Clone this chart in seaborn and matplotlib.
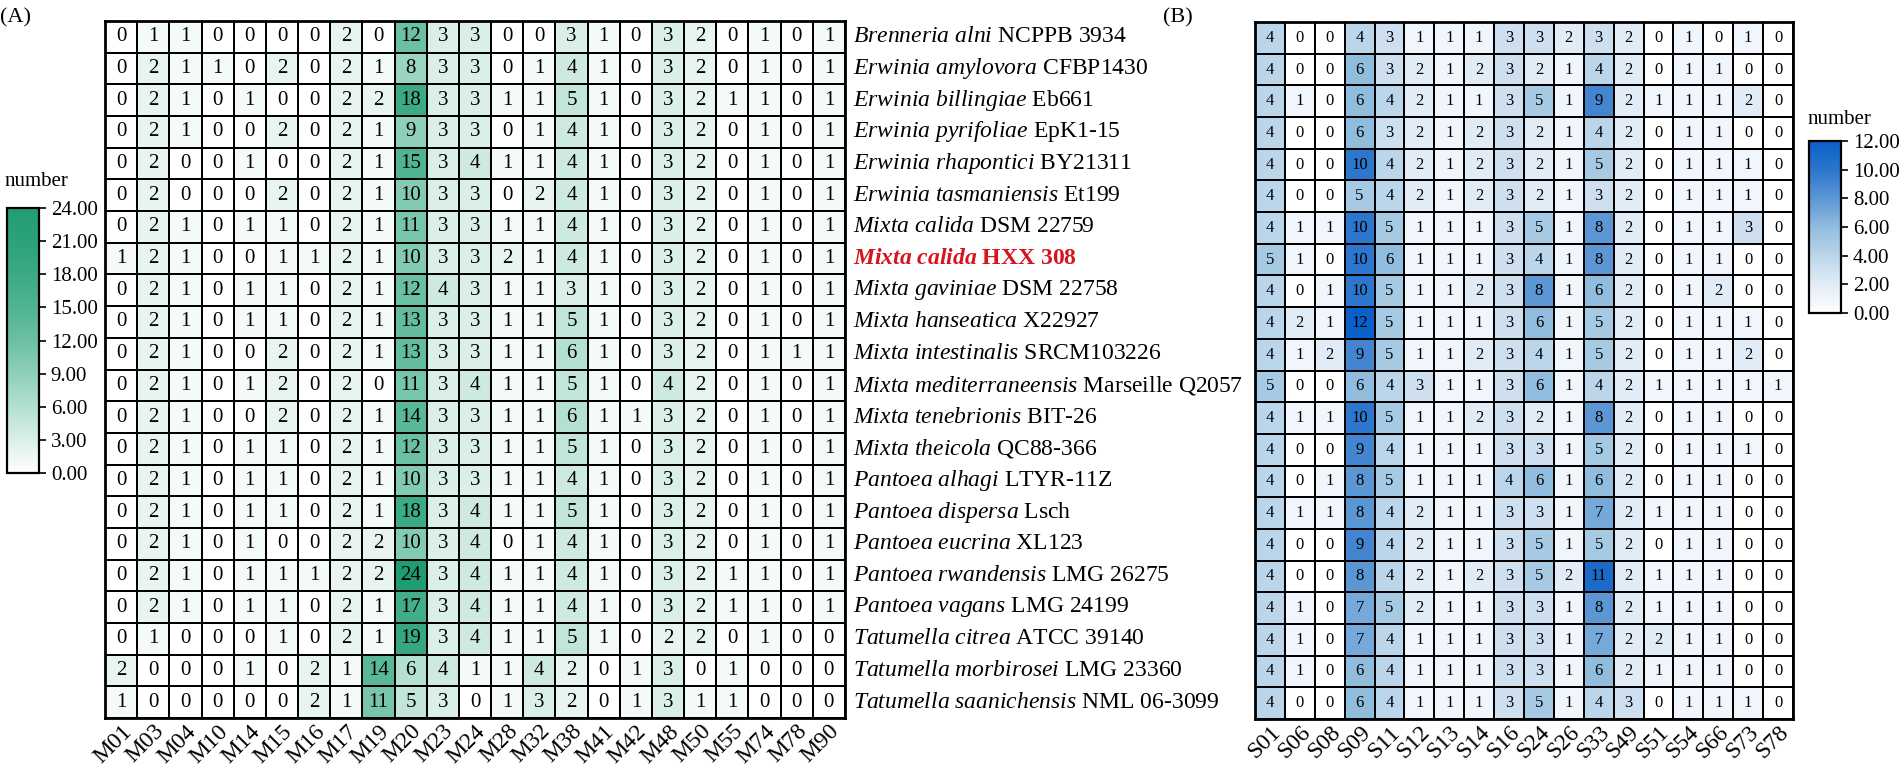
import numpy as np
import pandas as pd
import matplotlib
matplotlib.use("Agg")
import matplotlib.pyplot as plt
import seaborn as sns
from matplotlib.colors import LinearSegmentedColormap

# ---------------- data ----------------
genus_species = [
    "Brenneria alni", "Erwinia amylovora", "Erwinia billingiae", "Erwinia pyrifoliae",
    "Erwinia rhapontici", "Erwinia tasmaniensis", "Mixta calida", "Mixta calida",
    "Mixta gaviniae", "Mixta hanseatica", "Mixta intestinalis", "Mixta mediterraneensis",
    "Mixta tenebrionis", "Mixta theicola", "Pantoea alhagi", "Pantoea dispersa",
    "Pantoea eucrina", "Pantoea rwandensis", "Pantoea vagans", "Tatumella citrea",
    "Tatumella morbirosei", "Tatumella saanichensis",
]
strain_ids = [
    "NCPPB 3934", "CFBP1430", "Eb661", "EpK1-15", "BY21311", "Et199", "DSM 22759",
    "HXX 308", "DSM 22758", "X22927", "SRCM103226", "Marseille Q2057", "BIT-26",
    "QC88-366", "LTYR-11Z", "Lsch", "XL123", "LMG 26275", "LMG 24199", "ATCC 39140",
    "LMG 23360", "NML 06-3099",
]
highlight_row = 7

m_cols = ["M01", "M03", "M04", "M10", "M14", "M15", "M16", "M17", "M19", "M20", "M23", "M24",
          "M28", "M32", "M38", "M41", "M42", "M48", "M50", "M55", "M74", "M78", "M90"]
m_values = [
    [0, 1, 1, 0, 0, 0, 0, 2, 0, 12, 3, 3, 0, 0, 3, 1, 0, 3, 2, 0, 1, 0, 1],
    [0, 2, 1, 1, 0, 2, 0, 2, 1, 8, 3, 3, 0, 1, 4, 1, 0, 3, 2, 0, 1, 0, 1],
    [0, 2, 1, 0, 1, 0, 0, 2, 2, 18, 3, 3, 1, 1, 5, 1, 0, 3, 2, 1, 1, 0, 1],
    [0, 2, 1, 0, 0, 2, 0, 2, 1, 9, 3, 3, 0, 1, 4, 1, 0, 3, 2, 0, 1, 0, 1],
    [0, 2, 0, 0, 1, 0, 0, 2, 1, 15, 3, 4, 1, 1, 4, 1, 0, 3, 2, 0, 1, 0, 1],
    [0, 2, 0, 0, 0, 2, 0, 2, 1, 10, 3, 3, 0, 2, 4, 1, 0, 3, 2, 0, 1, 0, 1],
    [0, 2, 1, 0, 1, 1, 0, 2, 1, 11, 3, 3, 1, 1, 4, 1, 0, 3, 2, 0, 1, 0, 1],
    [1, 2, 1, 0, 0, 1, 1, 2, 1, 10, 3, 3, 2, 1, 4, 1, 0, 3, 2, 0, 1, 0, 1],
    [0, 2, 1, 0, 1, 1, 0, 2, 1, 12, 4, 3, 1, 1, 3, 1, 0, 3, 2, 0, 1, 0, 1],
    [0, 2, 1, 0, 1, 1, 0, 2, 1, 13, 3, 3, 1, 1, 5, 1, 0, 3, 2, 0, 1, 0, 1],
    [0, 2, 1, 0, 0, 2, 0, 2, 1, 13, 3, 3, 1, 1, 6, 1, 0, 3, 2, 0, 1, 1, 1],
    [0, 2, 1, 0, 1, 2, 0, 2, 0, 11, 3, 4, 1, 1, 5, 1, 0, 4, 2, 0, 1, 0, 1],
    [0, 2, 1, 0, 0, 2, 0, 2, 1, 14, 3, 3, 1, 1, 6, 1, 1, 3, 2, 0, 1, 0, 1],
    [0, 2, 1, 0, 1, 1, 0, 2, 1, 12, 3, 3, 1, 1, 5, 1, 0, 3, 2, 0, 1, 0, 1],
    [0, 2, 1, 0, 1, 1, 0, 2, 1, 10, 3, 3, 1, 1, 4, 1, 0, 3, 2, 0, 1, 0, 1],
    [0, 2, 1, 0, 1, 1, 0, 2, 1, 18, 3, 4, 1, 1, 5, 1, 0, 3, 2, 0, 1, 0, 1],
    [0, 2, 1, 0, 1, 0, 0, 2, 2, 10, 3, 4, 0, 1, 4, 1, 0, 3, 2, 0, 1, 0, 1],
    [0, 2, 1, 0, 1, 1, 1, 2, 2, 24, 3, 4, 1, 1, 4, 1, 0, 3, 2, 1, 1, 0, 1],
    [0, 2, 1, 0, 1, 1, 0, 2, 1, 17, 3, 4, 1, 1, 4, 1, 0, 3, 2, 1, 1, 0, 1],
    [0, 1, 0, 0, 0, 1, 0, 2, 1, 19, 3, 4, 1, 1, 5, 1, 0, 2, 2, 0, 1, 0, 0],
    [2, 0, 0, 0, 1, 0, 2, 1, 14, 6, 4, 1, 1, 4, 2, 0, 1, 3, 0, 1, 0, 0, 0],
    [1, 0, 0, 0, 0, 0, 2, 1, 11, 5, 3, 0, 1, 3, 2, 0, 1, 3, 1, 1, 0, 0, 0],
]

s_cols = ["S01", "S06", "S08", "S09", "S11", "S12", "S13", "S14", "S16", "S24", "S26", "S33",
          "S49", "S51", "S54", "S66", "S73", "S78"]
s_values = [
    [4, 0, 0, 4, 3, 1, 1, 1, 3, 3, 2, 3, 2, 0, 1, 0, 1, 0],
    [4, 0, 0, 6, 3, 2, 1, 2, 3, 2, 1, 4, 2, 0, 1, 1, 0, 0],
    [4, 1, 0, 6, 4, 2, 1, 1, 3, 5, 1, 9, 2, 1, 1, 1, 2, 0],
    [4, 0, 0, 6, 3, 2, 1, 2, 3, 2, 1, 4, 2, 0, 1, 1, 0, 0],
    [4, 0, 0, 10, 4, 2, 1, 2, 3, 2, 1, 5, 2, 0, 1, 1, 1, 0],
    [4, 0, 0, 5, 4, 2, 1, 2, 3, 2, 1, 3, 2, 0, 1, 1, 1, 0],
    [4, 1, 1, 10, 5, 1, 1, 1, 3, 5, 1, 8, 2, 0, 1, 1, 3, 0],
    [5, 1, 0, 10, 6, 1, 1, 1, 3, 4, 1, 8, 2, 0, 1, 1, 0, 0],
    [4, 0, 1, 10, 5, 1, 1, 2, 3, 8, 1, 6, 2, 0, 1, 2, 0, 0],
    [4, 2, 1, 12, 5, 1, 1, 1, 3, 6, 1, 5, 2, 0, 1, 1, 1, 0],
    [4, 1, 2, 9, 5, 1, 1, 2, 3, 4, 1, 5, 2, 0, 1, 1, 2, 0],
    [5, 0, 0, 6, 4, 3, 1, 1, 3, 6, 1, 4, 2, 1, 1, 1, 1, 1],
    [4, 1, 1, 10, 5, 1, 1, 2, 3, 2, 1, 8, 2, 0, 1, 1, 0, 0],
    [4, 0, 0, 9, 4, 1, 1, 1, 3, 3, 1, 5, 2, 0, 1, 1, 1, 0],
    [4, 0, 1, 8, 5, 1, 1, 1, 4, 6, 1, 6, 2, 0, 1, 1, 0, 0],
    [4, 1, 1, 8, 4, 2, 1, 1, 3, 3, 1, 7, 2, 1, 1, 1, 0, 0],
    [4, 0, 0, 9, 4, 2, 1, 1, 3, 5, 1, 5, 2, 0, 1, 1, 0, 0],
    [4, 0, 0, 8, 4, 2, 1, 2, 3, 5, 2, 11, 2, 1, 1, 1, 0, 0],
    [4, 1, 0, 7, 5, 2, 1, 1, 3, 3, 1, 8, 2, 1, 1, 1, 0, 0],
    [4, 1, 0, 7, 4, 1, 1, 1, 3, 3, 1, 7, 2, 2, 1, 1, 0, 0],
    [4, 1, 0, 6, 4, 1, 1, 1, 3, 3, 1, 6, 2, 1, 1, 1, 0, 0],
    [4, 0, 0, 6, 4, 1, 1, 1, 3, 5, 1, 4, 3, 0, 1, 1, 1, 0],
]

m_ticks = [0, 3, 6, 9, 12, 15, 18, 21, 24]
s_ticks = [0, 2, 4, 6, 8, 10, 12]

# ---------------- style ----------------
plt.rcParams["font.family"] = ["Liberation Serif", "DejaVu Serif"]
plt.rcParams["mathtext.fontset"] = "custom"
plt.rcParams["mathtext.rm"] = "Liberation Serif"
plt.rcParams["mathtext.it"] = "Liberation Serif:italic"
plt.rcParams["mathtext.bf"] = "Liberation Serif:bold"
try:
    plt.rcParams["mathtext.bfit"] = "Liberation Serif:italic:bold"
except KeyError:
    pass

green = LinearSegmentedColormap.from_list("grn", [
    (0.0, "#ffffff"), (0.125, "#daefe7"), (0.25, "#b4e0d0"), (0.375, "#8ecfb9"),
    (0.5, "#6cc0a2"), (0.625, "#50b491"), (0.75, "#3caa84"), (0.875, "#2ca27a"),
    (1.0, "#209c73")])
blue = LinearSegmentedColormap.from_list("blu", [
    (0.0, "#ffffff"), (1 / 6, "#e1ecf6"), (2 / 6, "#bbd5ea"), (0.5, "#91bcde"),
    (4 / 6, "#5c96d4"), (5 / 6, "#2d76cd"), (1.0, "#0a5fc8")])

W, H = 1902, 776
fig = plt.figure(figsize=(W / 100, H / 100), dpi=100)


def box(x0, y0, x1, y1):
    return [x0 / W, 1 - y1 / H, (x1 - x0) / W, (y1 - y0) / H]


axA = fig.add_axes(box(105, 21, 845, 718))
caxA = fig.add_axes(box(7, 208, 39, 473))
axB = fig.add_axes(box(1255, 22, 1793, 719))
caxB = fig.add_axes(box(1809, 141, 1841, 313))

row_labels = []
for i, (gs, sid) in enumerate(zip(genus_species, strain_ids)):
    words = gs.split()
    if i == highlight_row:
        it = " ".join(r"$\mathbfit{%s}$" % w for w in words)
    else:
        it = " ".join(r"$\mathit{%s}$" % w for w in words)
    row_labels.append(it + " " + sid)

dfA = pd.DataFrame(m_values, index=row_labels, columns=m_cols)
dfB = pd.DataFrame(s_values, index=row_labels, columns=s_cols)

sns.heatmap(dfA, ax=axA, cmap=green, vmin=0, vmax=24, annot=True, fmt="d",
            annot_kws={"size": 15, "color": "black"}, linewidths=1.4, linecolor="black",
            cbar_ax=caxA, cbar_kws={"ticks": m_ticks, "format": "%.2f"})
sns.heatmap(dfB, ax=axB, cmap=blue, vmin=0, vmax=12, annot=True, fmt="d",
            annot_kws={"size": 12, "color": "black"}, linewidths=1.4, linecolor="black",
            cbar_ax=caxB, cbar_kws={"ticks": s_ticks, "format": "%.2f"})

for ax in (axA, axB):
    for s in ax.spines.values():
        s.set_visible(True)
        s.set_linewidth(2)
        s.set_color("black")
    ax.set_xlabel("")
    ax.set_ylabel("")

axA.set_xticklabels(m_cols, rotation=45, ha="right", va="top", rotation_mode="anchor", fontsize=17)
axA.tick_params(axis="x", length=0, pad=2)
axA.yaxis.tick_right()
axA.set_yticklabels(row_labels, rotation=0, fontsize=17, va="center")
axA.tick_params(axis="y", length=0, pad=6)
lab = axA.get_yticklabels()[highlight_row]
lab.set_color("#d7141e")
lab.set_fontweight("bold")

axB.set_xticklabels(s_cols, rotation=45, ha="right", va="top", rotation_mode="anchor", fontsize=17)
axB.tick_params(axis="x", length=0, pad=2)
axB.set_yticks([])

for ax, cax in ((axA, caxA), (axB, caxB)):
    cb = ax.collections[0].colorbar
    cb.outline.set_linewidth(1.6)
    cb.outline.set_edgecolor("black")
    cax.tick_params(labelsize=15, length=5, width=1.2, color="black")

fig.text(5 / W, 1 - 186 / H, "number", fontsize=15, va="baseline", ha="left")
fig.text(1808 / W, 1 - 124 / H, "number", fontsize=15, va="baseline", ha="left")
fig.text(0 / W, 1 - 18 / H, "(A)", fontsize=16, va="center", ha="left")
fig.text(1163 / W, 1 - 18 / H, "(B)", fontsize=16, va="center", ha="left")

fig.savefig("out.png", dpi=100)
